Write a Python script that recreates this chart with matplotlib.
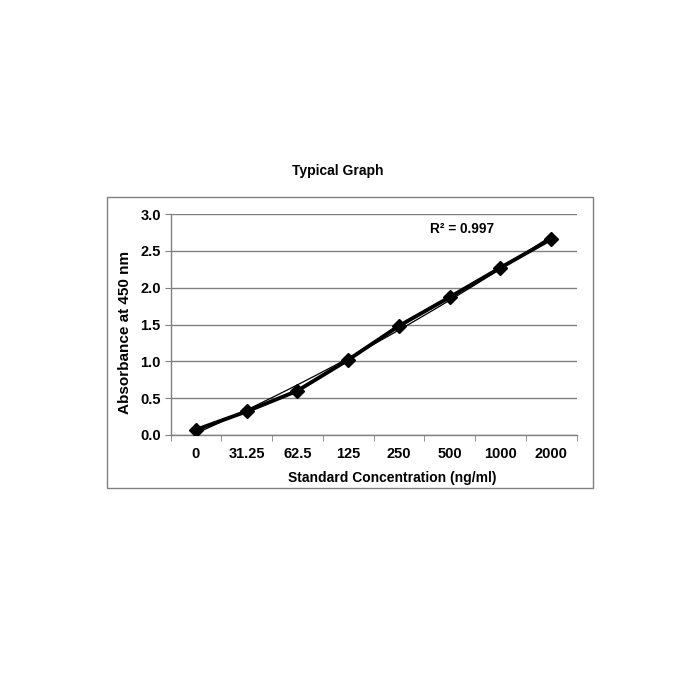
import numpy as np
import matplotlib
matplotlib.use("Agg")
import matplotlib.pyplot as plt

categories = ["0", "31.25", "62.5", "125", "250", "500", "1000", "2000"]
absorbance = [0.07, 0.32, 0.60, 1.02, 1.48, 1.87, 2.27, 2.66]
y_ticks = [0.0, 0.5, 1.0, 1.5, 2.0, 2.5, 3.0]

plt.rcParams['font.family'] = ['Liberation Sans', 'DejaVu Sans']
plt.rcParams['font.weight'] = 'bold'

fig = plt.figure(figsize=(7, 7), dpi=100)
W = H = 700.0

def rect(l, t, r, b):
    return [l / W, 1 - b / H, (r - l) / W, (b - t) / H]

# outer chart border
border = plt.Rectangle((107 / W, 1 - 488 / H), (593 - 107) / W, (488 - 197) / H,
                       transform=fig.transFigure, fill=False, edgecolor='#808080', linewidth=1.0)
fig.patches.append(border)

ax = fig.add_axes(rect(170.5, 214, 576.5, 435))
x = np.arange(len(categories))

# polynomial trendline
coef = np.polyfit(x, absorbance, 2)
xt = np.linspace(0, len(categories) - 1, 200)
ax.plot(xt, np.polyval(coef, xt), color='black', linewidth=0.9, zorder=3)

ax.plot(x, absorbance, color='black', linewidth=2.8, marker='D', markersize=7, zorder=4)

ax.set_xlim(-0.5, len(categories) - 0.5)
ax.set_ylim(0, 3.0)
ax.set_yticks(y_ticks)
ax.set_yticklabels([f"{v:.1f}" for v in y_ticks])
ax.set_xticks(x)
ax.set_xticklabels(categories)
ax.tick_params(axis='x', length=0, pad=9, labelsize=10.5)
ax.set_xticks(np.arange(-0.5, len(categories)), minor=True)
ax.tick_params(axis='x', which='minor', length=4, color='#808080', direction='out')
ax.tick_params(axis='y', length=4, color='#808080', labelsize=10.5, pad=3)
for lab in ax.get_xticklabels() + ax.get_yticklabels():
    lab.set_fontweight('bold')

ax.grid(axis='y', color='#808080', linewidth=1.0)
ax.set_axisbelow(True)
for s in ['top', 'right']:
    ax.spines[s].set_visible(False)
for s in ['left', 'bottom']:
    ax.spines[s].set_color('#808080')
    ax.spines[s].set_linewidth(1.0)

fig.text(125 / W, 1 - 332 / H, "Absorbance at 450 nm", ha='center', va='center',
         rotation=90, fontsize=11, fontweight='bold')
fig.text(392 / W, 1 - 478 / H, "Standard Concentration (ng/ml)", ha='center', va='center',
         fontsize=10, fontweight='bold')
fig.text(462 / W, 1 - 229 / H, "R\u00b2 = 0.997", ha='center', va='center', fontsize=9.8, fontweight='bold')
fig.text(338 / W, 1 - 171 / H, "Typical Graph", ha='center', va='center', fontsize=10, fontweight='bold')

fig.savefig("out.png", dpi=100, facecolor='white')
